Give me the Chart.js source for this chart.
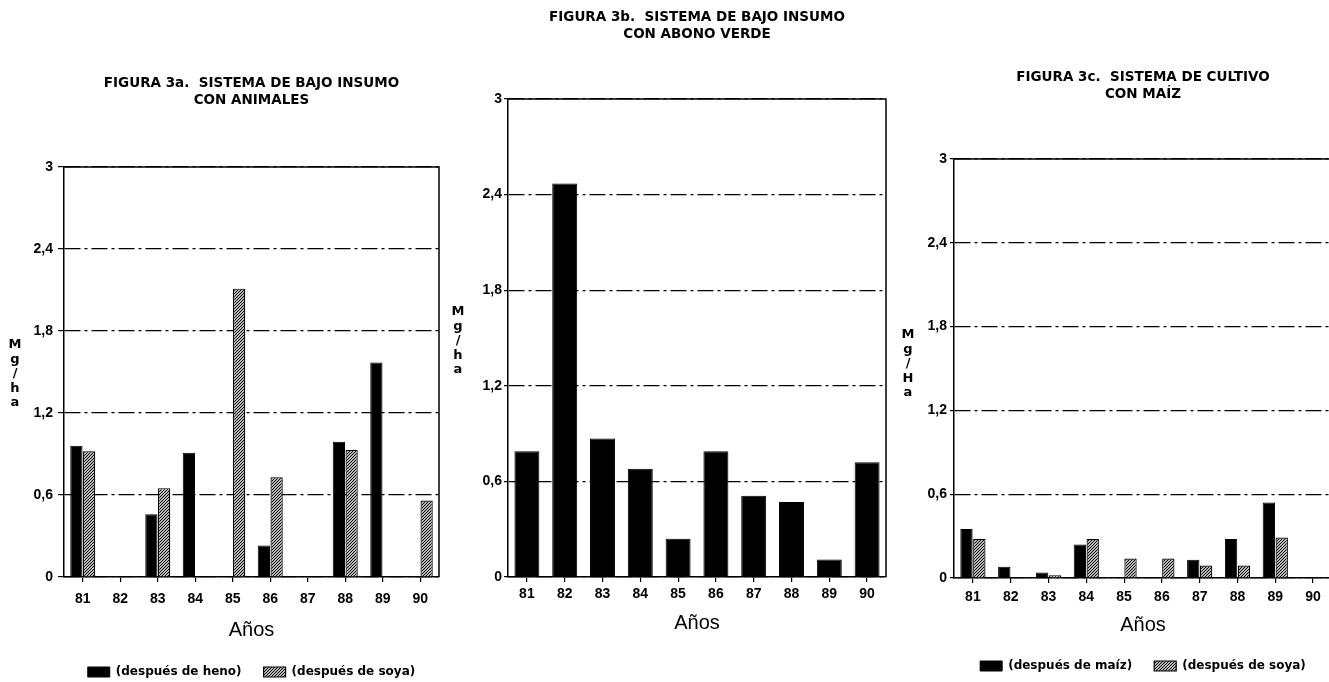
<!DOCTYPE html>
<html lang="es">
<head>
<meta charset="utf-8">
<title>Figura 3</title>
<script src="https://cdn.jsdelivr.net/npm/chart.js@4.4.1/dist/chart.umd.min.js"></script>
<style>
  html, body { margin: 0; padding: 0; background: #fff; overflow: hidden; width: 1329px; height: 682px; }
  canvas { position: absolute; top: 0; }
  #fig3a { left: 0; }
  #fig3b { left: 445px; }
  #fig3c { left: 900px; }
</style>
</head>
<body>
<canvas id="fig3a" width="445" height="700"></canvas>
<canvas id="fig3b" width="455" height="700"></canvas>
<canvas id="fig3c" width="440" height="700"></canvas>
<script>
// años (eje x)
const years = ["81", "82", "83", "84", "85", "86", "87", "88", "89", "90"];
// ticks del eje y (Mg/ha)
const yTicks = [0, 0.6, 1.2, 1.8, 2.4, 3];

// figura 3a
const heno3a = [0.96, 0, 0.46, 0.91, 0, 0.23, 0, 0.99, 1.57, 0];
const soya3a = [0.92, 0, 0.65, 0, 2.11, 0.73, 0, 0.93, 0, 0.56];
// figura 3b
const abono3b = [0.79, 2.47, 0.87, 0.68, 0.24, 0.79, 0.51, 0.47, 0.11, 0.72];
// figura 3c
const maiz3c = [0.35, 0.08, 0.04, 0.24, 0, 0, 0.13, 0.28, 0.54, 0];
const soya3c = [0.28, 0, 0.02, 0.28, 0.14, 0.14, 0.09, 0.09, 0.29, 0];

const LEG_PAD = 22;
const LEG_FS = 12;
const TITLE_FS = 13.5;
const TITLE_LH = 17;
const TICK_FS = 14;

function hatch(ctx) {
  const c = document.createElement("canvas");
  c.width = 3;
  c.height = 3;
  const g = c.getContext("2d");
  g.fillStyle = "#fff";
  g.fillRect(0, 0, 3, 3);
  g.strokeStyle = "#000";
  g.lineWidth = 1.1;
  g.beginPath();
  g.moveTo(0, 3); g.lineTo(3, 0);
  g.moveTo(-1, 1); g.lineTo(1, -1);
  g.moveTo(2, 4); g.lineTo(4, 2);
  g.stroke();
  return ctx.createPattern(c, "repeat");
}

// top and right edges of the plot box
const framePlugin = {
  id: "frame",
  afterDraw(chart) {
    const { ctx, chartArea } = chart;
    ctx.save();
    ctx.strokeStyle = "#000";
    ctx.lineWidth = 1.5;
    ctx.beginPath();
    ctx.moveTo(chartArea.left, chartArea.top);
    ctx.lineTo(chartArea.right, chartArea.top);
    ctx.lineTo(chartArea.right, chartArea.bottom);
    ctx.stroke();
    ctx.restore();
  },
};

// "Mg/ha" written letter by letter, one under the other
const stackLabelPlugin = {
  id: "stackLabel",
  afterDraw(chart, args, opts) {
    if (!opts.text) return;
    const { ctx } = chart;
    ctx.save();
    ctx.fillStyle = "#000";
    ctx.font = "bold 13px 'DejaVu Sans'";
    ctx.textAlign = "center";
    ctx.textBaseline = "middle";
    opts.text.split("").forEach((ch, i) => {
      ctx.fillText(ch, opts.x, opts.y + i * opts.step);
    });
    ctx.restore();
  },
};

function fmt(v) {
  if (v === 0 || v === 3) return String(v);
  return v.toFixed(1).replace(".", ",");
}

function makeChart(id, g, datasets, titleLines, yLabel, showLegend) {
  const canvas = document.getElementById(id);
  const H = canvas.height;
  const W = canvas.width;
  const legendH = showLegend ? LEG_FS + LEG_PAD + 10 : 0;
  const padBottom = showLegend ? H - g.legendY - LEG_FS / 2 - 10 : H - g.axisBottom;
  const axisBottom = H - padBottom - legendH;
  const titleTop = g.titleY - TITLE_LH / 2;
  const titleBottom = g.top - titleTop - TITLE_LH * titleLines.length;

  return new Chart(canvas, {
    type: "bar",
    data: { labels: years, datasets },
    options: {
      responsive: false,
      animation: false,
      devicePixelRatio: 1,
      events: [],
      layout: { padding: { left: 0, right: W - g.right, top: 0, bottom: padBottom } },
      plugins: {
        title: {
          display: true,
          fullSize: false,
          text: titleLines,
          color: "#000",
          font: { family: "DejaVu Sans", weight: "bold", size: TITLE_FS, lineHeight: TITLE_LH / TITLE_FS },
          padding: { top: titleTop, bottom: titleBottom },
        },
        legend: {
          display: showLegend,
          position: "bottom",
          fullSize: false,
          labels: {
            color: "#000",
            boxWidth: 22,
            boxHeight: 10,
            padding: LEG_PAD,
            font: { family: "DejaVu Sans", weight: "bold", size: LEG_FS },
          },
        },
        tooltip: { enabled: false },
        stackLabel: { text: yLabel, x: g.labelX, y: g.labelY, step: 14.5 },
      },
      scales: {
        x: {
          grid: {
            display: true,
            drawOnChartArea: false,
            drawTicks: true,
            tickLength: 5,
            offset: false,
            color: "#000",
            lineWidth: 1.2,
          },
          border: { display: true, color: "#000", width: 1.5 },
          ticks: {
            color: "#000",
            font: { family: "Liberation Sans", weight: "bold", size: TICK_FS },
            padding: g.tickY - g.bottom - 5 - (TICK_FS * 1.2) / 2,
            maxRotation: 0,
          },
          title: {
            display: true,
            text: "Años",
            color: "#000",
            font: { family: "Liberation Sans", size: 20 },
            padding: { top: 0, bottom: axisBottom - g.aniosY - 12 },
          },
          afterFit: (s) => {
            s.height = axisBottom - g.bottom;
          },
        },
        y: {
          min: 0,
          max: 3,
          afterBuildTicks: (s) => {
            s.ticks = yTicks.map((v) => ({ value: v }));
          },
          grid: {
            color: "#000",
            lineWidth: 1.2,
            drawTicks: true,
            tickLength: g.yTickLen,
          },
          border: { display: true, color: "#000", width: 1.5, dash: [16, 4, 3, 4] },
          ticks: {
            color: "#000",
            font: { family: "Liberation Sans", weight: "bold", size: TICK_FS },
            padding: g.yPad,
            callback: (v) => fmt(v),
          },
          afterFit: (s) => {
            s.width = g.left;
          },
        },
      },
    },
    plugins: [framePlugin, stackLabelPlugin],
  });
}

const ctxA = document.getElementById("fig3a").getContext("2d");
const ctxC = document.getElementById("fig3c").getContext("2d");

makeChart(
  "fig3a",
  { left: 64, right: 439, top: 167, bottom: 577, titleY: 83, tickY: 599, aniosY: 630, legendY: 672,
    yTickLen: 6, yPad: 5, labelX: 15, labelY: 345 },
  [
    { label: "(después de heno)", data: heno3a, backgroundColor: "#000", borderColor: "#000",
      borderWidth: 1, categoryPercentage: 0.68, barPercentage: 0.96 },
    { label: "(después de soya)", data: soya3a, backgroundColor: hatch(ctxA), borderColor: "#000",
      borderWidth: 1.2, categoryPercentage: 0.68, barPercentage: 0.96 },
  ],
  ["FIGURA 3a.  SISTEMA DE BAJO INSUMO", "CON ANIMALES"],
  "Mg/ha",
  true
);

makeChart(
  "fig3b",
  { left: 63, right: 441, top: 99, bottom: 577, titleY: 17, tickY: 594, aniosY: 623, axisBottom: 640,
    yTickLen: 4, yPad: 2, labelX: 13, labelY: 312 },
  [
    { label: "abono verde", data: abono3b, backgroundColor: "#000", borderColor: "#000",
      borderWidth: 1, categoryPercentage: 0.66, barPercentage: 1 },
  ],
  ["FIGURA 3b.  SISTEMA DE BAJO INSUMO", "CON ABONO VERDE"],
  "Mg/ha",
  false
);

makeChart(
  "fig3c",
  { left: 54, right: 432, top: 159, bottom: 578, titleY: 77, tickY: 597, aniosY: 625, legendY: 666,
    yTickLen: 4, yPad: 3, labelX: 8, labelY: 335 },
  [
    { label: "(después de maíz)", data: maiz3c, backgroundColor: "#000", borderColor: "#000",
      borderWidth: 1, categoryPercentage: 0.68, barPercentage: 0.96 },
    { label: "(después de soya)", data: soya3c, backgroundColor: hatch(ctxC), borderColor: "#000",
      borderWidth: 1.2, categoryPercentage: 0.68, barPercentage: 0.96 },
  ],
  ["FIGURA 3c.  SISTEMA DE CULTIVO", "CON MAÍZ"],
  "Mg/Ha",
  true
);
</script>
</body>
</html>
